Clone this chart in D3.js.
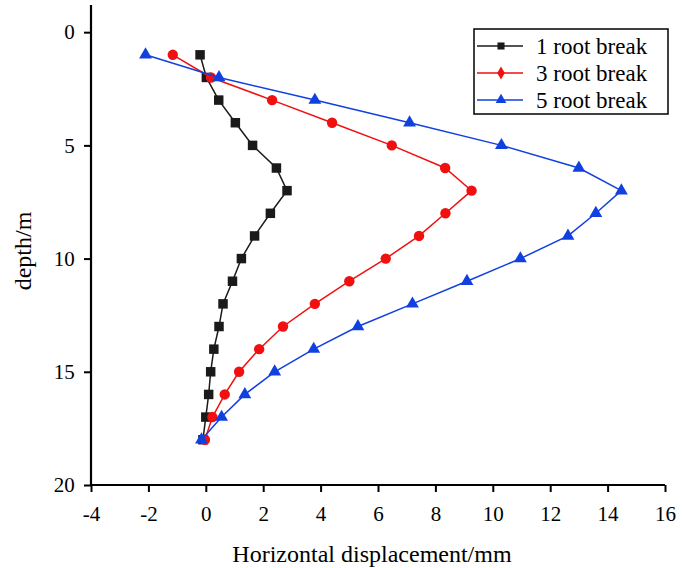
<!DOCTYPE html>
<html>
<head>
<meta charset="utf-8">
<script src="https://cdn.jsdelivr.net/npm/d3@7"></script>
<style>
  body { margin: 0; background: #fff; }
</style>
</head>
<body>
<svg id="chart"></svg>
<script>
const width = 684;
const height = 568;

// depths (m) and horizontal displacement (mm) per case
const depths = [1, 2, 3, 4, 5, 6, 7, 8, 9, 10, 11, 12, 13, 14, 15, 16, 17, 18];
const root1 = [-0.2, 0.02, 0.45, 1.03, 1.63, 2.46, 2.83, 2.25, 1.7, 1.24, 0.93, 0.6, 0.46, 0.28, 0.17, 0.1, 0.0, -0.1];
const root3 = [-1.15, 0.18, 2.31, 4.4, 6.48, 8.34, 9.26, 8.35, 7.43, 6.27, 5.0, 3.8, 2.69, 1.86, 1.16, 0.66, 0.23, -0.03];
const root5 = [-2.1, 0.46, 3.8, 7.1, 10.3, 13.0, 14.48, 13.59, 12.62, 10.96, 9.1, 7.2, 5.3, 3.76, 2.4, 1.36, 0.55, -0.15];
const seriesNames = ["1 root break", "3 root break", "5 root break"];
const colors = ["#1a1a1a", "#f01010", "#1040e0"];

const xTicks = [-4, -2, 0, 2, 4, 6, 8, 10, 12, 14, 16];
const yTicks = [0, 5, 10, 15, 20];

const margin = {left: 91, right: 19, top: 5, bottom: 83};
const serif = '"Liberation Serif", "Times New Roman", serif';

const svg = d3.select("#chart")
  .attr("width", width)
  .attr("height", height);

const x = d3.scaleLinear().domain([-4, 16]).range([margin.left, width - margin.right]);
const y = d3.scaleLinear().domain([-1.2, 20]).range([margin.top, height - margin.bottom]);

const series = [root1, root3, root5].map((vals, i) => ({
  name: seriesNames[i],
  color: colors[i],
  points: depths.map((d, j) => ({depth: d, value: vals[j]}))
}));

// axes
const fmt = d => String(d); // plain hyphen minus like the original
const xAxis = d3.axisBottom(x).tickValues(xTicks).tickSize(7).tickFormat(fmt);
const xMinor = d3.axisBottom(x).tickValues(d3.range(-3, 16, 2)).tickSize(4).tickFormat("");
const yAxis = d3.axisLeft(y).tickValues(yTicks).tickSize(7).tickFormat(fmt);
const yMinor = d3.axisLeft(y).tickValues([2.5, 7.5, 12.5, 17.5]).tickSize(4).tickFormat("");

const xg = svg.append("g").attr("transform", `translate(0,${y(20)})`);
xg.call(xMinor);
xg.call(xAxis);
const yg = svg.append("g").attr("transform", `translate(${x(-4)},0)`);
yg.call(yMinor);
yg.call(yAxis);

svg.selectAll(".domain").attr("stroke", "#000").attr("stroke-width", 2.2);
svg.selectAll(".tick line").attr("stroke", "#000").attr("stroke-width", 2);
svg.selectAll(".tick text")
  .attr("font-size", 21)
  .style("font-family", serif)
  .attr("fill", "#000");
xg.selectAll(".tick text").attr("dy", "1.22em");
yg.selectAll(".tick text").attr("dx", "-0.3em");
// domain paths include outer ticks; replace with plain lines
xg.select(".domain").attr("d", `M${x(-4)},0H${x(16)}`);
yg.select(".domain").attr("d", `M0,${y(-1.2)}V${y(20)}`);

// axis titles
svg.append("text")
  .attr("x", 372)
  .attr("y", 562)
  .attr("text-anchor", "middle")
  .attr("font-size", 24)
  .style("font-family", serif)
  .text("Horizontal displacement/mm");

svg.append("text")
  .attr("transform", "translate(31,251) rotate(-90)")
  .attr("text-anchor", "middle")
  .attr("font-size", 24)
  .style("font-family", serif)
  .text("depth/m");

// lines and markers
const line = d3.line().x(d => x(d.value)).y(d => y(d.depth));

const symbols = [d3.symbolSquare, d3.symbolCircle, d3.symbolTriangle];
const symSizes = [90, 85, 72];

const sg = svg.append("g")
  .selectAll("g")
  .data(series)
  .join("g");

sg.append("path")
  .attr("d", d => line(d.points))
  .attr("fill", "none")
  .attr("stroke", d => d.color)
  .attr("stroke-width", 1.5);

sg.each(function(s, i) {
  d3.select(this).selectAll("path.m")
    .data(s.points)
    .join("path")
      .attr("class", "m")
      .attr("transform", d => `translate(${x(d.value)},${y(d.depth)})`)
      .attr("d", d3.symbol().type(symbols[i]).size(symSizes[i]))
      .attr("fill", s.color);
});

// legend
const lg = svg.append("g").attr("transform", "translate(474,29)");
lg.append("rect")
  .attr("width", 194)
  .attr("height", 85)
  .attr("fill", "#fff")
  .attr("stroke", "#000")
  .attr("stroke-width", 1.5);

const legSymbols = [d3.symbolSquare, d3.symbolDiamond, d3.symbolTriangle];
const items = lg.selectAll("g.item")
  .data(series)
  .join("g")
    .attr("class", "item")
    .attr("transform", (d, i) => `translate(0,${17 + i * 27})`);

items.append("line")
  .attr("x1", 3).attr("x2", 49)
  .attr("stroke", d => d.color)
  .attr("stroke-width", 1.5);
items.append("path")
  .attr("transform", "translate(27,0)")
  .attr("d", (d, i) => d3.symbol().type(legSymbols[i]).size(50)())
  .attr("fill", d => d.color);
items.append("text")
  .attr("x", 62)
  .attr("dy", "0.33em")
  .attr("font-size", 23)
  .style("font-family", serif)
  .text(d => d.name);
</script>
</body>
</html>
